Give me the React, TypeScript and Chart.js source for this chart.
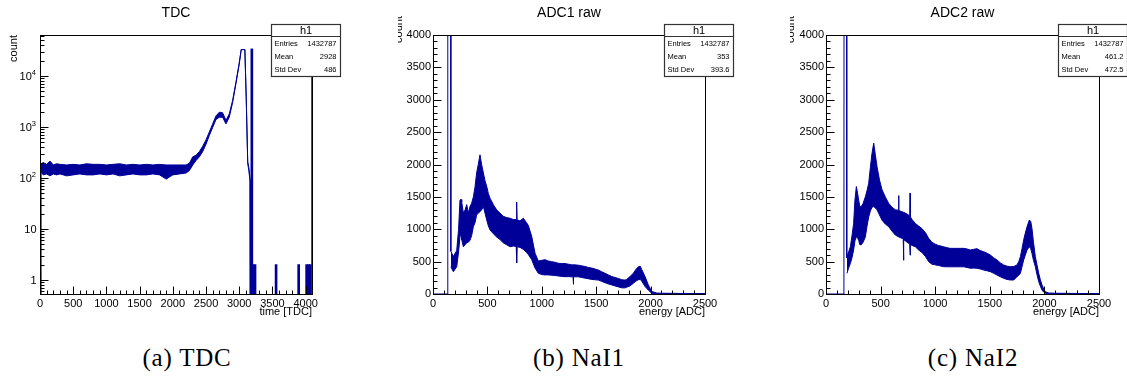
import React, { useEffect, useRef } from "react";
import { Chart, registerables } from "chart.js";

Chart.register(...registerables);

const BLUE = "#000099";
const SANS = '"Liberation Sans", Arial, Helvetica, sans-serif';

// ---------- TDC histogram (log y) ----------
const tdcX = [0, 12, 14, 50, 100, 150, 200, 250, 300, 400, 500, 600, 700, 800, 900, 1000, 1100, 1200, 1300, 1400, 1500, 1600, 1700, 1800, 1900, 2000, 2100, 2200, 2250, 2300, 2350, 2400, 2450, 2500, 2550, 2600, 2650, 2700, 2750, 2800, 2850, 2900, 2950, 3000, 3030, 3085, 3105, 3128, 3145, 3165, 3168];
const tdcHi = [0.53, 0.53, 190, 200, 185, 215, 180, 190, 185, 180, 185, 180, 190, 185, 185, 180, 185, 190, 180, 185, 180, 185, 180, 185, 180, 180, 180, 180, 195, 260, 280, 330, 420, 560, 800, 1150, 1650, 1950, 1900, 1350, 1800, 3300, 7500, 18000, 33000, 33000, 4000, 210, 160, 90, 0.53];
const tdcLo = [0.53, 0.53, 130, 115, 120, 110, 120, 115, 120, 110, 115, 120, 115, 115, 120, 115, 120, 110, 115, 120, 115, 115, 120, 115, 95, 115, 120, 125, 140, 180, 220, 260, 330, 460, 680, 980, 1400, 1550, 1550, 1150, 1550, 3000, 7000, 17000, 33000, 33000, 3800, 190, 140, 80, 0.53];
const tdcSpikeX = [3175, 3197, 3223, 3540, 3880, 4000, 4030, 4055, 4090];
const tdcSpikeY = [34000, 2, 2, 2, 2, 2, 2, 2, 60000];

// ---------- ADC1 histogram ----------
const adc1PedX = [0, 134, 136, 162, 164];
const adc1PedY = [0, 0, 9000, 9000, 660];
const adc1X = [164, 187, 218, 235, 248, 258, 264, 279, 295, 310, 325, 340, 355, 371, 386, 401, 416, 432, 447, 463, 478, 494, 509, 524, 555, 585, 616, 646, 677, 708, 738, 765, 769, 773, 800, 830, 860, 876, 907, 938, 968, 1000, 1029, 1060, 1091, 1120, 1152, 1183, 1213, 1245, 1275, 1287, 1290, 1293, 1305, 1336, 1366, 1397, 1428, 1459, 1490, 1520, 1550, 1581, 1612, 1643, 1673, 1704, 1735, 1765, 1780, 1811, 1841, 1865, 1887, 1905, 1918, 1949, 1979, 2010, 2056, 2100, 2200, 2300, 2400, 2500];
const adc1Hi = [660, 580, 670, 1000, 1450, 1460, 1420, 1250, 1300, 1380, 1250, 1350, 1400, 1500, 1650, 1870, 2000, 2150, 2000, 1870, 1750, 1660, 1550, 1480, 1380, 1300, 1250, 1200, 1180, 1170, 1150, 1150, 1420, 1145, 1130, 1170, 1100, 1060, 890, 630, 510, 520, 530, 510, 500, 490, 475, 470, 470, 460, 450, 450, 450, 450, 450, 445, 435, 425, 410, 400, 385, 370, 345, 320, 295, 270, 255, 240, 220, 215, 225, 270, 320, 380, 420, 430, 380, 270, 140, 40, 15, 12, 10, 8, 8, 6];
const adc1Lo = [420, 345, 420, 650, 880, 950, 840, 730, 760, 790, 800, 830, 900, 1040, 1100, 1220, 1250, 1270, 1300, 1350, 1250, 1140, 1050, 990, 930, 880, 840, 790, 760, 730, 740, 735, 480, 730, 720, 690, 640, 610, 530, 400, 320, 300, 295, 295, 290, 285, 278, 272, 268, 268, 265, 265, 150, 265, 265, 265, 255, 245, 235, 225, 220, 215, 195, 175, 155, 140, 125, 110, 95, 95, 105, 125, 165, 200, 220, 225, 200, 115, 60, 12, 3, 2, 1, 1, 1, 0];

// ---------- ADC2 histogram ----------
const adc2PedX = [0, 164, 166, 188, 190];
const adc2PedY = [0, 0, 9000, 9000, 560];
const adc2X = [192, 207, 223, 238, 253, 265, 278, 290, 299, 310, 323, 340, 360, 376, 391, 406, 421, 437, 452, 467, 490, 513, 543, 574, 605, 635, 662, 665, 668, 696, 707, 710, 713, 727, 757, 767, 770, 773, 788, 818, 848, 879, 910, 940, 970, 1000, 1030, 1077, 1108, 1138, 1170, 1200, 1230, 1261, 1292, 1322, 1353, 1383, 1414, 1444, 1475, 1505, 1535, 1566, 1597, 1627, 1658, 1688, 1719, 1749, 1765, 1780, 1795, 1810, 1825, 1841, 1862, 1875, 1886, 1900, 1917, 1932, 1948, 1963, 1978, 1993, 2008, 2040, 2100, 2200, 2300, 2400, 2500];
const adc2Hi = [580, 650, 730, 900, 1090, 1450, 1660, 1550, 1450, 1350, 1350, 1400, 1500, 1600, 1710, 1950, 2170, 2330, 2150, 1970, 1760, 1610, 1500, 1400, 1340, 1300, 1295, 1520, 1290, 1270, 1265, 1260, 1258, 1250, 1220, 1200, 1560, 1190, 1150, 1090, 1050, 1010, 950, 860, 800, 770, 750, 730, 715, 705, 705, 705, 705, 705, 695, 680, 690, 700, 670, 653, 630, 602, 560, 525, 480, 448, 430, 422, 425, 448, 500, 576, 700, 834, 940, 1039, 1143, 1120, 1014, 800, 576, 450, 319, 220, 139, 80, 36, 15, 12, 10, 8, 7, 6];
const adc2Lo = [320, 400, 470, 560, 680, 820, 885, 860, 830, 760, 760, 800, 880, 1050, 1190, 1280, 1340, 1350, 1330, 1300, 1220, 1140, 1080, 1040, 970, 910, 885, 880, 880, 860, 860, 520, 840, 820, 780, 770, 600, 765, 750, 730, 680, 640, 580, 500, 460, 450, 440, 422, 420, 420, 420, 420, 420, 420, 410, 397, 400, 397, 385, 370, 358, 345, 320, 293, 265, 242, 225, 216, 216, 268, 290, 319, 420, 525, 600, 680, 730, 700, 628, 520, 422, 300, 190, 120, 62, 30, 10, 3, 2, 1, 1, 1, 0];

// ---------- texts ----------
const statLabels = ["Entries", "Mean", "Std Dev"];
const tdcStats = ["1432787", "2928", "486"];
const adc1Stats = ["1432787", "353", "393.6"];
const adc2Stats = ["1432787", "461.2", "472.5"];
const titles = ["TDC", "ADC1 raw", "ADC2 raw"];
const xTitles = ["time [TDC]", "energy [ADC]", "energy [ADC]"];
const yTitle = "count";
const captions = ["(a) TDC", "(b) NaI1", "(c) NaI2"];
const tdcXTicks = [0, 500, 1000, 1500, 2000, 2500, 3000, 3500, 4000];
const adcXTicks = [0, 500, 1000, 1500, 2000, 2500];
const adcYTicks = [0, 500, 1000, 1500, 2000, 2500, 3000, 3500, 4000];

const pts = (xs: number[], ys: number[]) => xs.map((x, i) => ({ x, y: ys[i] }));

const rootDeco = {
  id: "rootDeco",
  afterDraw(chart: any, _args: any, o: any) {
    const ctx: CanvasRenderingContext2D = chart.ctx;
    const a = chart.chartArea;
    const xs = chart.scales.x;
    const ys = chart.scales.y;
    const line = (x1: number, y1: number, x2: number, y2: number) => {
      ctx.beginPath();
      ctx.moveTo(x1, y1);
      ctx.lineTo(x2, y2);
      ctx.stroke();
    };
    const L = Math.round(a.left) + 0.5;
    const R = Math.round(a.right) + 0.5;
    const T = Math.round(a.top) + 0.5;
    const B = Math.round(a.bottom) + 0.5;
    ctx.save();
    ctx.strokeStyle = "#000";
    ctx.lineWidth = 1;
    ctx.strokeRect(L, T, R - L, B - T);
    // x ticks
    for (let i = 0; i * o.xMinor <= xs.max + 1e-9; i++) {
      const v = i * o.xMinor;
      const px = Math.round(xs.getPixelForValue(v)) + 0.5;
      const major = i % o.xPerMajor === 0;
      line(px, B, px, B - (major ? 8 : 4));
    }
    // y ticks
    if (o.logY) {
      for (let d = -1; d <= 5; d++) {
        for (let m = 1; m <= 9; m++) {
          const v = m * Math.pow(10, d);
          if (v < ys.min || v > ys.max) continue;
          const py = Math.round(ys.getPixelForValue(v)) + 0.5;
          line(L, py, L + (m === 1 ? 8 : 4), py);
        }
      }
      ctx.fillStyle = "#000";
      ctx.textBaseline = "middle";
      for (let d = 0; d <= 4; d++) {
        const py = ys.getPixelForValue(Math.pow(10, d));
        const xr = a.left - 3.5;
        if (d < 2) {
          ctx.font = `11px ${SANS}`;
          ctx.textAlign = "right";
          ctx.fillText(d === 0 ? "1" : "10", xr, py + 1);
        } else {
          ctx.font = `7.5px ${SANS}`;
          const ew = ctx.measureText(String(d)).width;
          ctx.textAlign = "right";
          ctx.fillText(String(d), xr - 0.5, py - 3);
          ctx.font = `11px ${SANS}`;
          ctx.fillText("10", xr - 0.5 - ew, py + 1);
        }
      }
    } else {
      for (let i = 0; i * o.yMinor <= ys.max + 1e-9; i++) {
        const v = i * o.yMinor;
        const py = Math.round(ys.getPixelForValue(v)) + 0.5;
        const major = i % o.yPerMajor === 0;
        line(L, py, L + (major ? 8 : 4), py);
      }
    }
    ctx.fillStyle = "#000";
    // title
    ctx.font = `14px ${SANS}`;
    ctx.textAlign = "center";
    ctx.textBaseline = "middle";
    ctx.fillText(o.title, (a.left + a.right) / 2, a.top - 22);
    // x title
    ctx.font = `11px ${SANS}`;
    ctx.textAlign = "right";
    ctx.fillText(o.xTitle, a.right, a.bottom + 18);
    // y title
    ctx.save();
    ctx.translate(a.left + o.yTitleDx, o.yTitleTop);
    ctx.rotate(-Math.PI / 2);
    ctx.textAlign = "right";
    ctx.textBaseline = "alphabetic";
    ctx.font = `11px ${SANS}`;
    ctx.fillText(o.yTitle, 0, 0);
    ctx.restore();
    // stat box
    const bx1 = Math.round(a.right - 41) + 0.5;
    const bx2 = Math.round(a.right + 27.5) + 0.5;
    const by1 = Math.round(a.top - 11) + 0.5;
    const by2 = Math.round(a.top + 41) + 0.5;
    ctx.fillStyle = "#fff";
    ctx.fillRect(bx1, by1, bx2 - bx1, by2 - by1);
    ctx.strokeStyle = "#333";
    ctx.lineWidth = 1.2;
    ctx.strokeRect(bx1, by1, bx2 - bx1, by2 - by1);
    line(bx1, by1 + 12, bx2, by1 + 12);
    ctx.fillStyle = "#000";
    ctx.font = `11px ${SANS}`;
    ctx.textAlign = "center";
    ctx.fillText("h1", (bx1 + bx2) / 2, by1 + 6.5);
    ctx.font = `7.5px ${SANS}`;
    for (let i = 0; i < o.stats.length; i++) {
      const y = by1 + 19.3 + 13 * i;
      ctx.textAlign = "left";
      ctx.fillText(statLabels[i], bx1 + 3, y);
      ctx.textAlign = "right";
      ctx.fillText(o.stats[i], bx2 - 4, y);
    }
    ctx.restore();
  },
};

type PanelSpec = {
  left: number;
  width: number;
  yWidth: number;
  padRight: number;
  build: () => any;
};

const tickFont = { family: SANS, size: 11 };
const plainLabel = (v: any) => String(v);

function xScale(max: number, axisHeight: number, tickVals: number[]) {
  return {
    type: "linear",
    min: 0,
    max,
    offset: false,
    grid: { display: false, drawTicks: false },
    border: { display: false },
    ticks: { color: "#000", font: tickFont, padding: 3, autoSkip: false, maxRotation: 0, callback: plainLabel },
    afterBuildTicks: (s: any) => {
      s.ticks = tickVals.map((v) => ({ value: v }));
    },
    afterFit: (s: any) => {
      s.height = axisHeight;
    },
  };
}

const baseLine = { type: "line", borderColor: BLUE, backgroundColor: BLUE, borderWidth: 1, pointRadius: 0, tension: 0 };

const panels: PanelSpec[] = [
  {
    left: 0,
    width: 376,
    yWidth: 40,
    padRight: 64,
    build: () => ({
      datasets: [
        { ...baseLine, data: pts(tdcX, tdcHi), fill: "+1" },
        { ...baseLine, data: pts(tdcX, tdcLo), fill: false },
        { type: "bar", xAxisID: "xb", data: pts(tdcSpikeX, tdcSpikeY), backgroundColor: BLUE, borderWidth: 0, barThickness: 2 },
      ],
      y: { type: "logarithmic", min: 0.53, max: 63700 },
      deco: { title: titles[0], xTitle: xTitles[0], yTitle, stats: tdcStats, logY: true, xMinor: 100, xPerMajor: 5, yTitleDx: -23, yTitleTop: 35 },
      xmax: 4096,
      xTicks: tdcXTicks,
      extraScales: {
        xb: { type: "linear", display: false, min: 0, max: 4096, offset: false, grid: { display: false } },
      },
    }),
  },
  {
    left: 398,
    width: 370,
    yWidth: 35,
    padRight: 63,
    build: () => ({
      datasets: [
        { ...baseLine, data: pts(adc1X, adc1Hi), fill: "+1" },
        { ...baseLine, data: pts(adc1X, adc1Lo), fill: false },
        { ...baseLine, data: pts(adc1PedX, adc1PedY), fill: false },
      ],
      y: { type: "linear", min: 0, max: 4000 },
      deco: { title: titles[1], xTitle: xTitles[1], yTitle, stats: adc1Stats, logY: false, xMinor: 100, xPerMajor: 5, yMinor: 100, yPerMajor: 5, yTitleDx: -31, yTitleTop: 16 },
      xmax: 2500,
      xTicks: adcXTicks,
      extraScales: {},
    }),
  },
  {
    left: 790,
    width: 337,
    yWidth: 36,
    padRight: 28,
    build: () => ({
      datasets: [
        { ...baseLine, data: pts(adc2X, adc2Hi), fill: "+1" },
        { ...baseLine, data: pts(adc2X, adc2Lo), fill: false },
        { ...baseLine, data: pts(adc2PedX, adc2PedY), fill: false },
      ],
      y: { type: "linear", min: 0, max: 4000 },
      deco: { title: titles[2], xTitle: xTitles[2], yTitle, stats: adc2Stats, logY: false, xMinor: 100, xPerMajor: 5, yMinor: 100, yPerMajor: 5, yTitleDx: -32, yTitleTop: 16 },
      xmax: 2500,
      xTicks: adcXTicks,
      extraScales: {},
    }),
  },
];

const CANVAS_H = 330;

function Panel({ spec }: { spec: PanelSpec }) {
  const ref = useRef<HTMLCanvasElement | null>(null);
  useEffect(() => {
    if (!ref.current) return;
    const b = spec.build();
    const yConf: any = {
      ...b.y,
      grid: { display: false, drawTicks: false },
      border: { display: false },
      ticks: b.y.type === "logarithmic"
        ? { display: false }
        : { color: "#000", font: tickFont, padding: 2, callback: plainLabel },
      afterBuildTicks: b.y.type === "logarithmic"
        ? undefined
        : (s: any) => {
            s.ticks = adcYTicks.map((v) => ({ value: v }));
          },
      afterFit: (s: any) => {
        s.width = spec.yWidth;
      },
    };
    const chart = new Chart(ref.current, {
      type: "line",
      data: { datasets: b.datasets },
      options: {
        responsive: false,
        animation: false,
        devicePixelRatio: 1,
        layout: { padding: { left: 0, top: 35, right: spec.padRight, bottom: 0 } },
        scales: { x: xScale(b.xmax, CANVAS_H - 294, b.xTicks), y: yConf, ...b.extraScales },
        plugins: {
          legend: { display: false },
          tooltip: { enabled: false },
          rootDeco: b.deco,
        },
      } as any,
      plugins: [rootDeco as any],
    } as any);
    return () => chart.destroy();
  }, [spec]);
  return (
    <canvas
      ref={ref}
      width={spec.width}
      height={CANVAS_H}
      style={{ position: "absolute", left: spec.left, top: 0, width: spec.width, height: CANVAS_H }}
    />
  );
}

const captionCenters = [187, 579, 973];

export default function App() {
  return (
    <div style={{ position: "absolute", left: 0, top: 0, width: 1127, height: 377, background: "#fff", overflow: "hidden" }}>
      {panels.map((p, i) => (
        <Panel key={i} spec={p} />
      ))}
      {captions.map((c, i) => (
        <div
          key={c}
          style={{
            position: "absolute",
            left: captionCenters[i] - 120,
            width: 240,
            top: 343,
            lineHeight: "30px",
            textAlign: "center",
            fontFamily: '"Liberation Serif", "DejaVu Serif", serif',
            fontSize: 25,
            letterSpacing: 0.8,
            color: "#000",
          }}
        >
          {c}
        </div>
      ))}
    </div>
  );
}
